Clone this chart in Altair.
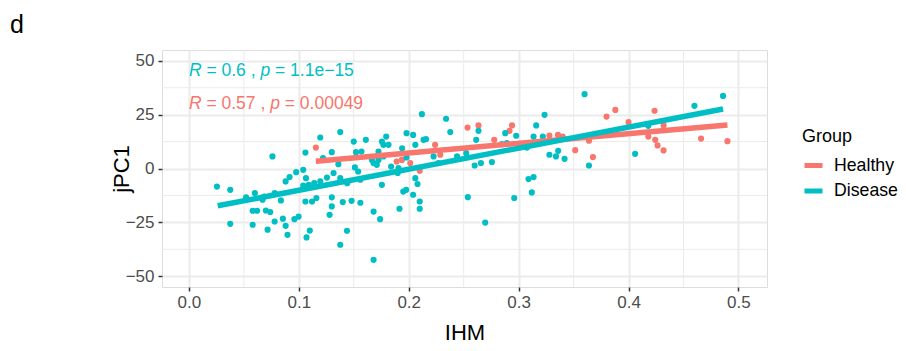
import altair as alt
import pandas as pd

# ---------------- data ----------------
healthy_x = [0.1155, 0.189, 0.1938, 0.2014, 0.210, 0.224, 0.2287, 0.2535, 0.2635, 0.2778,
             0.2917, 0.294, 0.328, 0.3358, 0.340, 0.3515, 0.364, 0.3676, 0.380, 0.388,
             0.400, 0.418, 0.4237, 0.4243, 0.4264, 0.4319, 0.4319, 0.466, 0.490]
healthy_y = [9.7, 3.2, 4.0, 2.5, -1.1, 11.0, 6.4, 19.0, 20.0, 13.3,
             17.5, 20.0, 15.3, 15.6, 14.8, 8.5, 12.9, 5.3, 24.1, 27.2,
             21.5, 14.8, 26.8, 13.3, 10.7, 20.0, 8.4, 13.9, 12.7]

disease_x = [0.0255, 0.0376, 0.0376, 0.052, 0.060, 0.058, 0.062, 0.058, 0.0685, 0.067,
             0.070, 0.074, 0.0716, 0.076, 0.078, 0.078, 0.0837, 0.0855, 0.088, 0.0897,
             0.088, 0.0916, 0.0976, 0.096, 0.0998, 0.104, 0.106, 0.1065, 0.109, 0.104,
             0.106, 0.112, 0.116, 0.110, 0.107, 0.1195, 0.122, 0.130, 0.1256, 0.1316,
             0.1195, 0.114, 0.130, 0.130, 0.128, 0.1377, 0.136, 0.1377, 0.140, 0.1438,
             0.1377, 0.150, 0.152, 0.157, 0.151, 0.154, 0.156, 0.144, 0.148, 0.156,
             0.161, 0.168, 0.174, 0.168, 0.1756, 0.1725, 0.1756, 0.177, 0.1795, 0.1816,
             0.177, 0.1725, 0.171, 0.1665, 0.168, 0.184, 0.194, 0.198, 0.204, 0.206,
             0.2135, 0.2157, 0.212, 0.2226, 0.227, 0.1907, 0.190, 0.198, 0.206, 0.208,
             0.204, 0.195, 0.1977, 0.210, 0.210, 0.1916, 0.234, 0.2378, 0.244, 0.2523,
             0.2635, 0.2614, 0.260, 0.2657, 0.2538, 0.2696, 0.2757, 0.2878, 0.2893, 0.2848,
             0.2978, 0.296, 0.309, 0.3136, 0.312, 0.3076, 0.3136, 0.316, 0.3236, 0.322,
             0.328, 0.334, 0.336, 0.3418, 0.360, 0.364, 0.406, 0.418, 0.460, 0.486]
disease_y = [-8.4, -9.9, -25.7, -13.4, -11.4, -19.6, -19.6, -26.1, -13.0, -14.5,
             -19.5, -20.2, -28.4, 5.6, -11.4, -24.6, -14.8, -23.3, -26.6, -30.8,
             -6.0, -4.0, -1.7, -23.5, -22.3, -0.6, 7.4, -4.5, -7.6, -7.9,
             -15.3, -15.3, -13.7, -28.8, -32.0, 14.4, 4.8, 7.6, -4.2, -2.1,
             -6.0, -6.8, -13.4, -17.6, -21.5, 16.9, 2.0, -4.5, -15.6, -28.9,
             -35.4, 12.5, 7.6, 7.9, 0.5, -1.4, -5.2, -6.8, -15.0, -15.9,
             13.3, -20.0, -23.5, -42.4, -7.6, 7.9, 12.5, 11.0, 14.8, 11.0,
             5.6, 4.0, 1.7, 4.0, 2.5, 0.9, 9.4, 16.4, 15.6, 11.0,
             13.3, 13.6, 25.2, 5.6, 2.5, 0.2, -2.1, 5.1, -4.5, -7.2,
             -12.2, -10.7, -9.9, -15.3, -18.7, -18.7, 23.1, 16.9, 5.6, 7.1,
             17.5, 13.3, 1.4, 2.5, -13.3, -25.1, 3.0, 16.4, 11.8, 11.3,
             15.2, -13.7, -4.9, -4.0, -11.1, 9.7, 14.8, 20.0, 24.9, 14.8,
             6.4, 5.6, 8.2, 4.5, 34.5, 1.4, 6.8, 19.8, 29.1, 33.7]

# fitted (linear) lines, endpoints
fit_healthy_x = [0.1155, 0.490]
fit_healthy_y = [3.4, 20.2]
fit_disease_x = [0.0262, 0.486]
fit_disease_y = [-17.3, 27.6]

groups = ["Healthy", "Disease"]
group_colors = ["#F8766D", "#00BFC4"]

x_ticks = [0.0, 0.1, 0.2, 0.3, 0.4, 0.5]
x_minor = [0.05, 0.15, 0.25, 0.35, 0.45]
y_ticks = [-50, -25, 0, 25, 50]
y_minor = [-37.5, -12.5, 12.5, 37.5]

# annotation pieces: (text, italic)
ann_disease = [("R", True), ("= 0.6 ,", False), ("p", True), ("= 1.1e\u221215", False)]
ann_healthy = [("R", True), ("= 0.57 ,", False), ("p", True), ("= 0.00049", False)]
ann_y = {"Disease": 45.1, "Healthy": 29.8}

panel_label = "d"

# ---------------- build ----------------
FONT = "Liberation Sans"
W, H = 605, 237
XDOM = [-0.0245, 0.526]
YDOM = [-55, 55]

df = pd.DataFrame({
    "IHM": healthy_x + disease_x,
    "jPC1": healthy_y + disease_y,
    "Group": ["Healthy"] * len(healthy_x) + ["Disease"] * len(disease_x),
})
fit_df = pd.DataFrame({
    "IHM": fit_healthy_x + fit_disease_x,
    "jPC1": fit_healthy_y + fit_disease_y,
    "Group": ["Healthy"] * 2 + ["Disease"] * 2,
})

xs = alt.Scale(domain=XDOM, nice=False, zero=False)
ys = alt.Scale(domain=YDOM, nice=False, zero=False)
cs = alt.Scale(domain=groups, range=group_colors)

x_axis = alt.Axis(values=x_ticks, format=".1f", title="IHM", grid=True,
                  gridColor="#EBEBEB", gridWidth=2, domain=False,
                  tickColor="#333333", tickWidth=1.5, tickSize=4,
                  labelColor="#4D4D4D", labelFontSize=17, labelPadding=3,
                  labelFont=FONT, titleFont=FONT, titleFontSize=22,
                  titleFontWeight="normal", titleColor="black",
                  titleBaseline="middle", titleY=45)
y_axis = alt.Axis(values=y_ticks, format="d", title="jPC1", grid=True,
                  gridColor="#EBEBEB", gridWidth=2, domain=False,
                  tickColor="#333333", tickWidth=1.5, tickSize=4,
                  labelColor="#4D4D4D", labelFontSize=17, labelPadding=4,
                  labelFont=FONT, titleFont=FONT, titleFontSize=22,
                  titleFontWeight="normal", titleColor="black",
                  titleBaseline="middle", titleX=-41, titleAngle=270)

legend = alt.Legend(title="Group", orient="none", legendX=640, legendY=78,
                    titleFont=FONT, titleFontSize=18, titleFontWeight="normal",
                    titleColor="black", titlePadding=8,
                    labelFont=FONT, labelFontSize=17.7, labelColor="black",
                    labelOffset=9, symbolType="stroke", symbolStrokeWidth=5,
                    symbolSize=324, rowPadding=3.5)

minor_x = alt.Chart(pd.DataFrame({"v": x_minor})).mark_rule(
    color="#EBEBEB", strokeWidth=1).encode(x=alt.X("v:Q", scale=xs, axis=x_axis))
minor_y = alt.Chart(pd.DataFrame({"v": y_minor})).mark_rule(
    color="#EBEBEB", strokeWidth=1).encode(y=alt.Y("v:Q", scale=ys, axis=y_axis))

points = alt.Chart(df).mark_circle(size=38, opacity=1).encode(
    x=alt.X("IHM:Q", scale=xs, axis=x_axis),
    y=alt.Y("jPC1:Q", scale=ys, axis=y_axis),
    color=alt.Color("Group:N", scale=cs, legend=legend),
)

lines = alt.Chart(fit_df).mark_line(strokeWidth=5.5).encode(
    x=alt.X("IHM:Q", scale=xs, axis=x_axis),
    y=alt.Y("jPC1:Q", scale=ys, axis=y_axis),
    color=alt.Color("Group:N", scale=cs, legend=legend),
)

# character advance widths (Arial / Liberation Sans metrics, em units)
ADV = {"R": .722, "p": .556, "=": .584, " ": .278, ".": .278, ",": .278,
       "e": .556, "\u2212": .584}
def adv(s, fs):
    return sum(ADV.get(c, .556) for c in s) * fs

FS = 17.5
ann_layers = []
for grp, pieces in (("Disease", ann_disease), ("Healthy", ann_healthy)):
    col = group_colors[groups.index(grp)]
    off = 0.0
    for txt, ital in pieces:
        props = dict(align="left", baseline="middle", dx=off, font=FONT,
                     fontSize=FS, color=col)
        if ital:
            props["fontStyle"] = "italic"
        ann_layers.append(
            alt.Chart(pd.DataFrame({"t": [txt]})).mark_text(**props).encode(
                x=alt.datum(0.0, scale=xs), y=alt.datum(ann_y[grp], scale=ys),
                text="t:N")
        )
        off += adv(txt + " ", FS)

label = alt.Chart(pd.DataFrame({"t": [panel_label]})).mark_text(
    align="left", baseline="alphabetic", font=FONT, fontSize=25, color="black"
).encode(x=alt.value(-152), y=alt.value(-17), text="t:N")

chart = alt.layer(minor_x, minor_y, points, lines, *ann_layers, label).properties(
    width=W, height=H,
    padding={"left": 154, "top": 42, "right": 131, "bottom": 56},
    autosize=alt.AutoSizeParams(type="none"),
).configure_view(stroke="#333333", strokeWidth=1.5).configure(background="white")

chart.save("out.html", embed_options={"renderer": "svg", "actions": False})
